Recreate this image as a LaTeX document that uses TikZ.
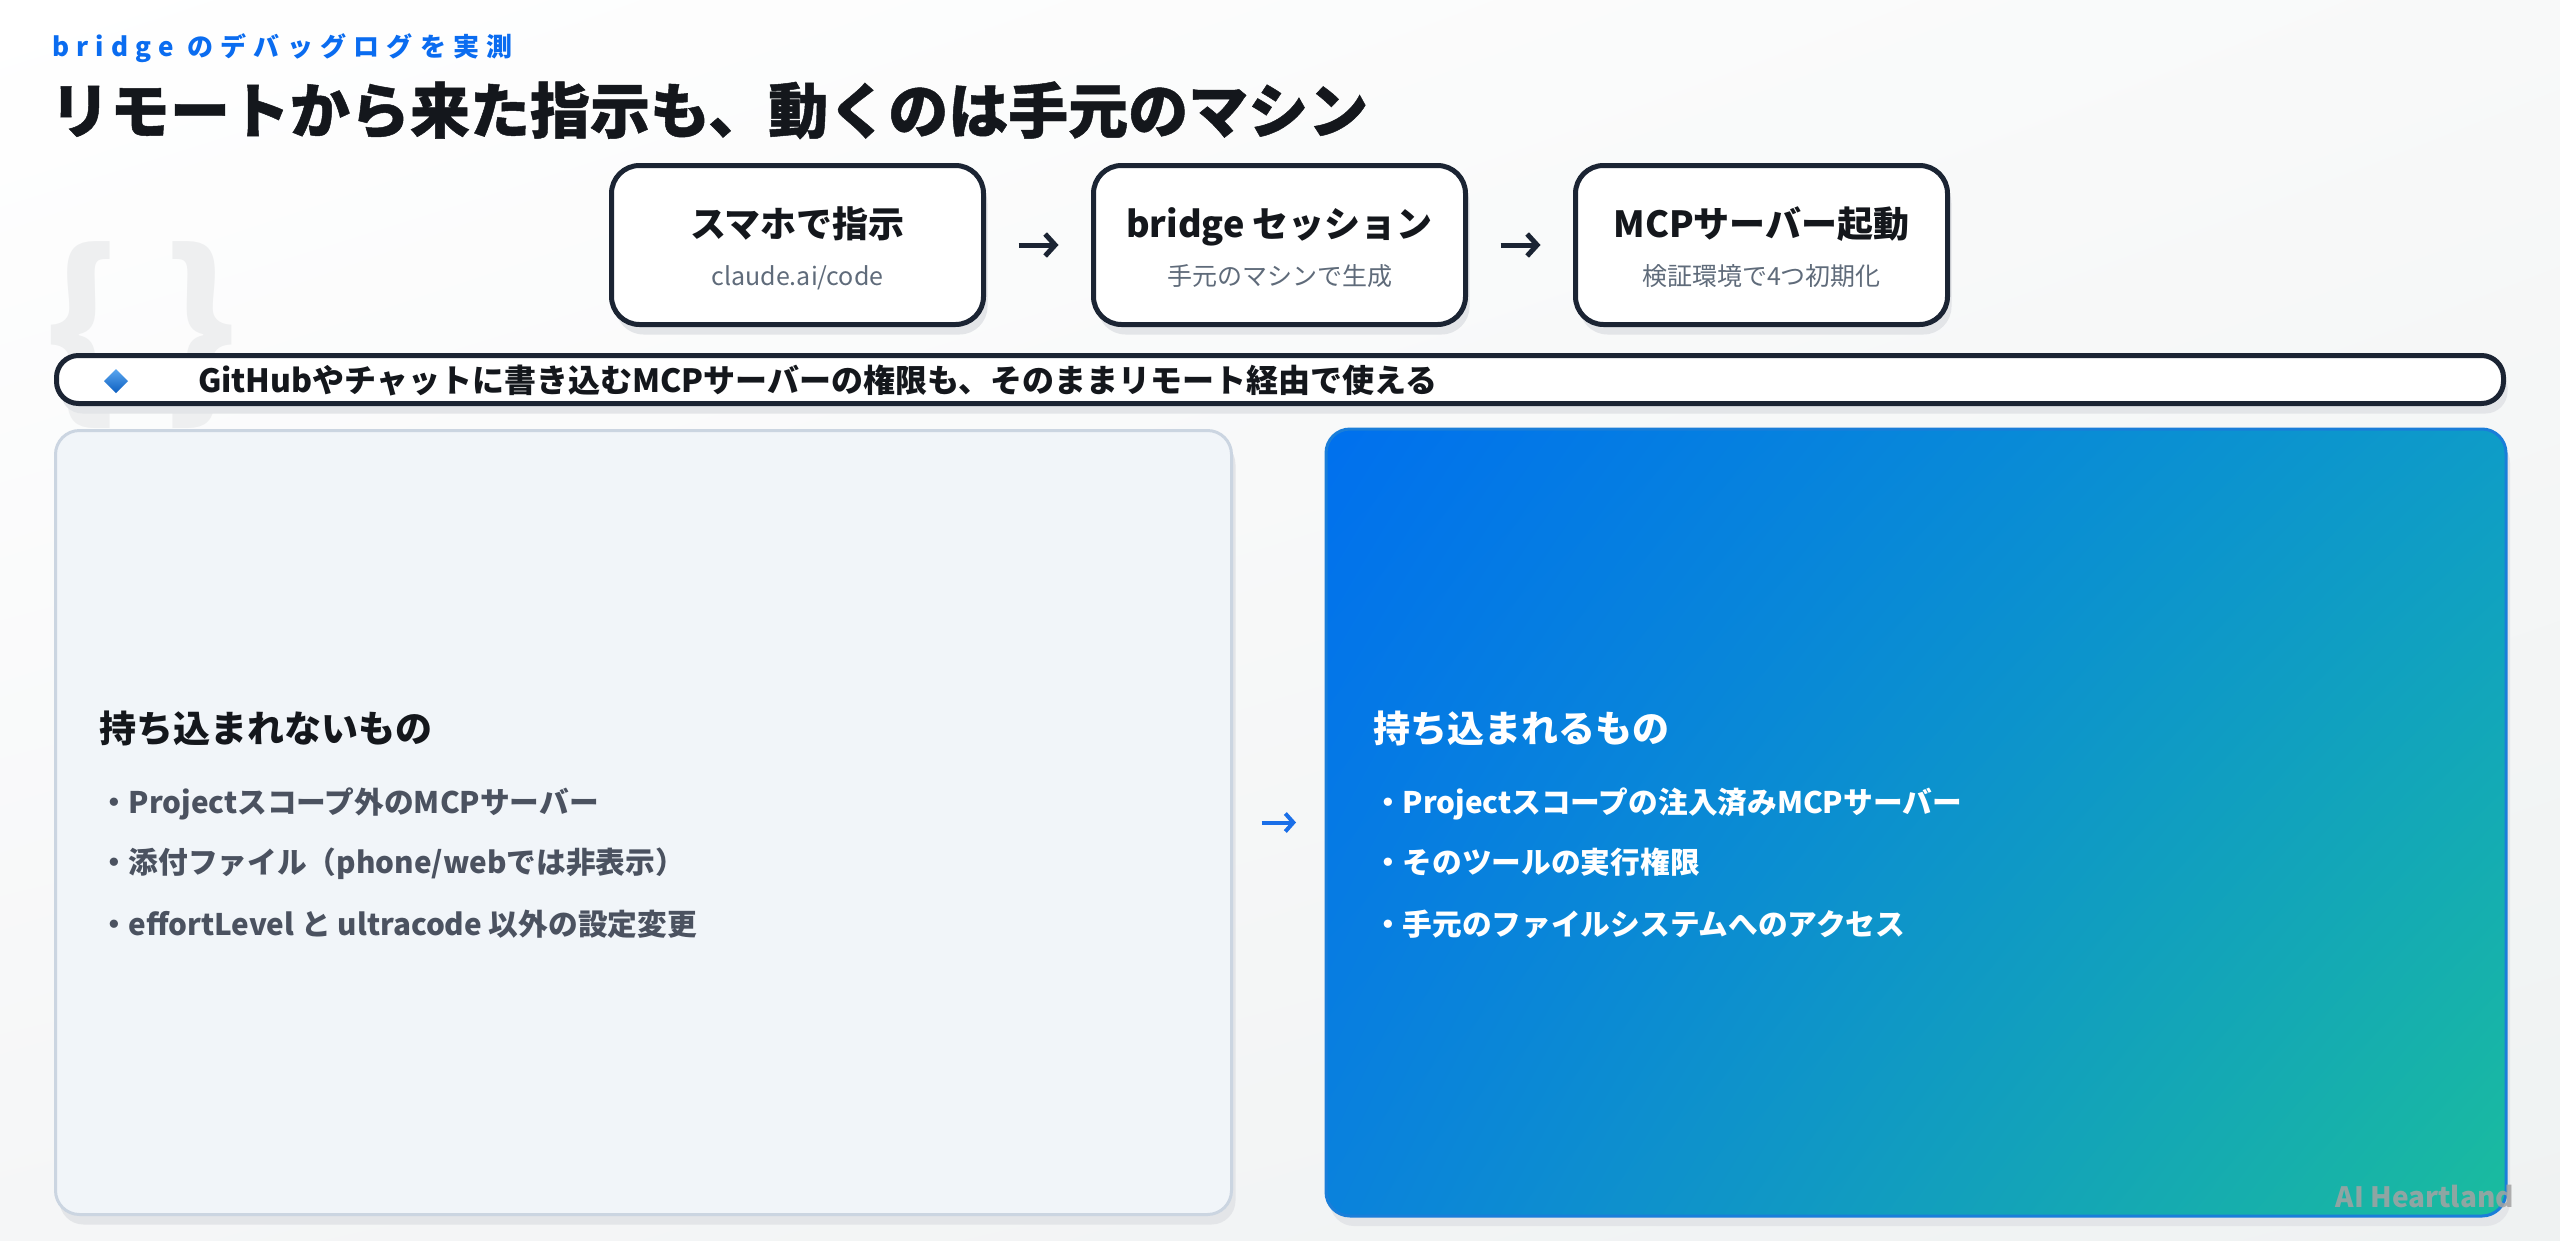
\documentclass[tikz,border=0pt]{standalone}
\usepackage{fontspec}
\setmainfont{Noto Sans CJK JP}
\usetikzlibrary{arrows.meta,shapes.geometric,shadows,shadings}
\definecolor{ink}{HTML}{14171C}
\definecolor{navy}{HTML}{1B2433}
\definecolor{subgray}{HTML}{5F6B7A}
\definecolor{accent}{HTML}{0A6CF0}
\definecolor{lpfill}{HTML}{F1F5F9}
\definecolor{lpborder}{HTML}{CBD5E1}
\definecolor{bulgray}{HTML}{4B5260}
\definecolor{shadowc}{HTML}{E3E5E8}
\definecolor{gA}{HTML}{0070EE}
\definecolor{gB}{HTML}{1ABC9E}
\definecolor{gC}{HTML}{0E9CC8}
\definecolor{gD}{HTML}{0A82DC}
\definecolor{bgA}{HTML}{FFFFFF}
\definecolor{bgB}{HTML}{EFF2F2}
\definecolor{bgC}{HTML}{F8F9F9}
\definecolor{bgD}{HTML}{F5F6F7}
\definecolor{bracec}{HTML}{EEEFF0}
\definecolor{arrowblue}{HTML}{1A6FE8}
\definecolor{markc}{HTML}{A3A3A3}
\definecolor{dtop}{HTML}{5AA7F0}
\definecolor{dbot}{HTML}{0D5FC0}
\begin{document}
\begin{tikzpicture}[x=1pt,y=-1pt,
  every node/.style={inner sep=0pt,outer sep=0pt},
  softshadow/.style={drop shadow={shadow xshift=4pt,shadow yshift=-10pt,fill=shadowc,opacity=1}},
  stepbox/.style={draw=navy,line width=5pt,fill=white,rounded corners=28pt,
    minimum width=372pt,minimum height=159pt,softshadow},
  boxtitle/.style={anchor=base,text=ink,font=\fontsize{36}{40}\selectfont\bfseries},
  boxsub/.style={anchor=base,text=subgray,font=\fontsize{25}{28}\selectfont},
  flowarrow/.style={draw=navy,line width=5pt,-{Straight Barb[length=10pt,width=22pt]}},
  bullet/.style={anchor=base west,font=\fontsize{29.7}{32}\selectfont\bfseries},
  heading/.style={anchor=base west,font=\fontsize{37}{42}\selectfont\bfseries}]
\useasboundingbox (0,0) rectangle (2560,1240);
\shade[upper left=bgA,upper right=bgC,lower left=bgD,lower right=bgB] (0,0) rectangle (2560,1240);
% watermark braces
\node[text=bracec,font=\fontsize{190}{190}\selectfont\bfseries] (brl) at (82,335) {\{};
\node[text=bracec,font=\fontsize{190}{190}\selectfont\bfseries] (brr) at (200,335) {\}};
% header
\node[anchor=base west,text=accent,font=\fontsize{26}{30}\selectfont\bfseries\addfontfeatures{LetterSpace=28}] (sub) at (52,56) {bridge のデバッグログを実測};
\node[anchor=base west,text=ink,font=\fontsize{60}{66}\selectfont\bfseries\addfontfeatures{FakeBold=0.8}] (title) at (50,133) {リモートから来た指示も、動くのは手元のマシン};
% flow boxes
\node[stepbox] (b1) at (797.5,245) {};
\node[stepbox] (b2) at (1279.5,245) {};
\node[stepbox] (b3) at (1761.5,245) {};
\node[boxtitle] (b1t) at (797.5,237) {スマホで指示};
\node[boxsub] (b1s) at (797.5,285) {claude.ai/code};
\node[boxtitle] (b2t) at (1279.5,237) {bridge セッション};
\node[boxsub] (b2s) at (1279.5,285) {手元のマシンで生成};
\node[boxtitle] (b3t) at (1761.5,237) {MCPサーバー起動};
\node[boxsub] (b3s) at (1761.5,285) {検証環境で4つ初期化};
\draw[flowarrow,shorten <=35pt,shorten >=35pt] (b1.east) -- (b2.west);
\draw[flowarrow,shorten <=35pt,shorten >=35pt] (b2.east) -- (b3.west);
% bar
\node[draw=navy,line width=5pt,fill=white,rounded corners=22pt,minimum width=2447pt,minimum height=48pt,softshadow] (bar) at (1280,379.5) {};
\node[diamond,top color=dtop,bottom color=dbot,minimum width=24pt,minimum height=24pt] (dia) at (116,381) {};
\node[anchor=base west,text=ink,font=\fontsize{32}{36}\selectfont\bfseries] (bartext) at (198,392) {GitHubやチャットに書き込むMCPサーバーの権限も、そのままリモート経由で使える};
% panels
\node[fill=lpfill,draw=lpborder,line width=3pt,rounded corners=24pt,minimum width=1176pt,minimum height=784pt,softshadow] (lp) at (643.5,822.5) {};
\node[upper left=gA,upper right=gC,lower left=gD,lower right=gB,rounded corners=24pt,minimum width=1180pt,minimum height=787pt,softshadow] (rp) at (1916,822.5) {};
\draw[arrowblue!80!gB,line width=3pt,rounded corners=24pt] (rp.south west) rectangle (rp.north east);
\node[heading,text=ink] (lh) at (99,742) {持ち込まれないもの};
\node[bullet,text=bulgray] (l1) at (99,813) {・Projectスコープ外のMCPサーバー};
\node[bullet,text=bulgray] (l2) at (99,873) {・添付ファイル（phone/webでは非表示）};
\node[bullet,text=bulgray] (l3) at (99,935) {・effortLevel と ultracode 以外の設定変更};
\node[heading,text=white] (rh) at (1373,742) {持ち込まれるもの};
\node[bullet,text=white] (r1) at (1373,813) {・Projectスコープの注入済みMCPサーバー};
\node[bullet,text=white] (r2) at (1373,873) {・そのツールの実行権限};
\node[bullet,text=white] (r3) at (1373,935) {・手元のファイルシステムへのアクセス};
\draw[draw=arrowblue,line width=4pt,-{Straight Barb[length=8pt,width=18pt]},shorten <=30pt,shorten >=30pt] (lp.east) -- (rp.west);
\node[anchor=base east,text=markc,opacity=0.85,font=\fontsize{28}{32}\selectfont\bfseries] (mark) at (2514,1207) {AI Heartland};
\end{tikzpicture}
\end{document}
